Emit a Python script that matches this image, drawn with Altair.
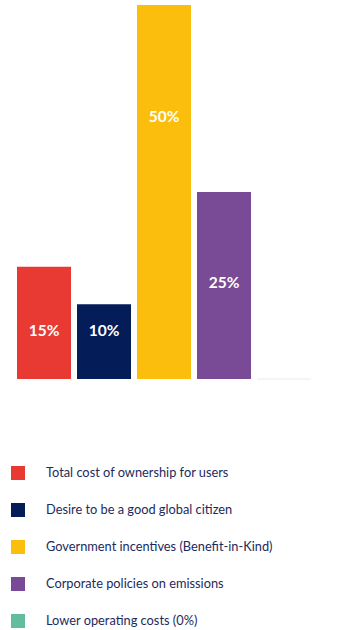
import altair as alt
import pandas as pd

categories = [
    "Total cost of ownership for users",
    "Desire to be a good global citizen",
    "Government incentives (Benefit-in-Kind)",
    "Corporate policies on emissions",
    "Lower operating costs (0%)",
]
values = [15, 10, 50, 25, 0]
labels = ["15%", "10%", "50%", "25%", ""]
colors = ["#e83a32", "#041c58", "#fbbe0d", "#794a96", "#63bc9f"]

# label anchor heights (in value units) used for placing the white labels
label_at = [6.4, 6.4, 35, 12.8, 0]

df = pd.DataFrame({
    "category": categories,
    "value": values,
    "label": labels,
    "label_at": label_at,
})

x = alt.X("category:N", sort=categories, axis=None,
          scale=alt.Scale(paddingInner=0.1, paddingOuter=0))
y_scale = alt.Scale(domain=[0, 50], nice=False, zero=True)

bars = alt.Chart(df).mark_bar().encode(
    x=x,
    y=alt.Y("value:Q", axis=None, scale=y_scale),
    color=alt.Color(
        "category:N",
        sort=categories,
        scale=alt.Scale(domain=categories, range=colors),
        legend=alt.Legend(
            title=None,
            orient="none",
            legendX=-6,
            legendY=461,
            symbolType="square",
            symbolSize=196,
            symbolStrokeWidth=0,
            symbolOpacity=1,
            labelFont="Lato",
            labelFontSize=12.8,
            labelColor="#1d2a5c",
            labelOffset=21,
            rowPadding=23,
            labelLimit=320,
        ),
    ),
)

zero_tick = alt.Chart(df).transform_filter("datum.value == 0").mark_tick(
    orient="horizontal", thickness=2, size=54, color="#f1f1f1"
).encode(
    x=x,
    y=alt.Y("value:Q", axis=None, scale=y_scale),
)

text = alt.Chart(df).transform_filter("datum.value > 0").mark_text(
    font="Lato", fontWeight="bold", fontSize=15.5, color="white", baseline="middle"
).encode(
    x=x,
    y=alt.Y("label_at:Q", axis=None, scale=y_scale),
    text="label:N",
)

chart = alt.layer(bars, zero_tick, text).properties(
    width=294,
    height=374,
    padding={"left": 11, "top": 5, "right": 0, "bottom": 0},
    background="white",
).configure_view(stroke=None)

chart.save("out.html", embed_options={"renderer": "svg", "actions": False})
